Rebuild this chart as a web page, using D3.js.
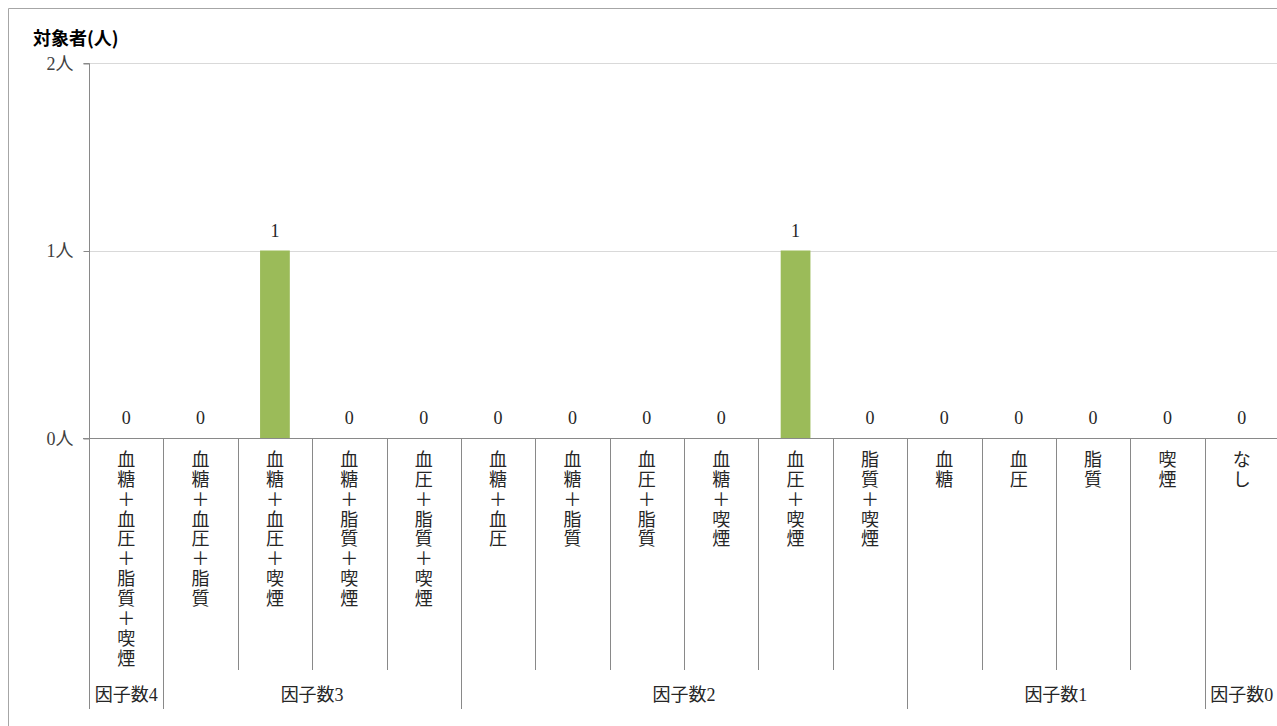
<!DOCTYPE html>
<html><head><meta charset="utf-8">
<script src="https://cdn.jsdelivr.net/npm/d3@7"></script>
<style>
html,body{margin:0;padding:0;background:#fff;}
svg{display:block;}
text{font-family:"Liberation Serif","Noto Sans CJK JP",serif;fill:#262626;}
</style></head><body>
<svg id="chart" width="1277" height="726"></svg>
<script>
const categories = ["血糖＋血圧＋脂質＋喫煙","血糖＋血圧＋脂質","血糖＋血圧＋喫煙","血糖＋脂質＋喫煙","血圧＋脂質＋喫煙","血糖＋血圧","血糖＋脂質","血圧＋脂質","血糖＋喫煙","血圧＋喫煙","脂質＋喫煙","血糖","血圧","脂質","喫煙","なし"];
const values = [0,0,1,0,0,0,0,0,0,1,0,0,0,0,0,0];
const groups = ["因子数4","因子数3","因子数2","因子数1","因子数0"];
const groupSizes = [1,4,6,4,1];
const yTicks = [0,1,2];
const yTitle = "対象者(人)";

(function(){
const svg = d3.select("#chart");
const pLeft = 89, pRight = 1279, pTop = 63, base = 438;
const x = d3.scaleBand().domain(categories).range([pLeft, pRight]).padding(0);
const y = d3.scaleLinear().domain([0, 2]).range([base, pTop]);

// outer frame
svg.append("path").attr("d", "M8.5,726V8.5H1277").attr("fill","none").attr("stroke","#a6a6a6").attr("stroke-width",1);

// title
svg.append("text").attr("x",33).attr("y",45).text(yTitle)
  .style("font-family","'Noto Sans CJK JP',sans-serif").style("font-weight","bold").style("font-size","18px").style("fill","#000");

// gridlines
svg.append("g").selectAll("line").data(yTicks.filter(d=>d>0)).join("line")
  .attr("x1",pLeft).attr("x2",1277).attr("y1",d=>Math.round(y(d))+0.5).attr("y2",d=>Math.round(y(d))+0.5)
  .attr("stroke","#d9d9d9");

// y axis
const yAxis = d3.axisLeft(y).tickValues(yTicks).tickSize(6).tickPadding(10).tickFormat(d=>d+"人");
const ya = svg.append("g").attr("transform",`translate(${pLeft+0.5},0.5)`).call(yAxis);
ya.attr("font-family",null).attr("font-size",null);
ya.select(".domain").attr("stroke","#898989").attr("d",`M-6,${pTop}H0V${base}`);
ya.selectAll(".tick line").attr("stroke","#898989");
ya.selectAll(".tick text").style("font-size","18px").style("fill","#404040");

// bars
svg.append("g").selectAll("rect").data(categories).join("rect")
  .attr("x",(d)=>x(d)+x.bandwidth()*0.3)
  .attr("width",x.bandwidth()*0.4)
  .attr("y",(d,i)=>y(values[i]))
  .attr("height",(d,i)=>base - y(values[i]))
  .attr("fill","#9bbb59");

// value labels
svg.append("g").selectAll("text").data(categories).join("text")
  .attr("x",d=>x(d)+x.bandwidth()/2)
  .attr("y",(d,i)=>y(values[i])-20)
  .attr("text-anchor","middle").attr("dominant-baseline","central")
  .style("font-size","18px").style("fill","#262626")
  .text((d,i)=>values[i]);

// x baseline
svg.append("line").attr("x1",pLeft-6).attr("x2",1277).attr("y1",base+0.5).attr("y2",base+0.5).attr("stroke","#898989");

// separators
const groupStarts = [];
let acc = 0;
groupSizes.forEach(s=>{groupStarts.push(acc); acc+=s;});
const boundaries = d3.range(categories.length+1);
svg.append("g").selectAll("line").data(boundaries).join("line")
  .attr("x1",i=>Math.round(i<categories.length?x(categories[i]):pRight)+0.5)
  .attr("x2",i=>Math.round(i<categories.length?x(categories[i]):pRight)+0.5)
  .attr("y1",base).attr("y2",i=>(groupStarts.includes(i)||i===categories.length)?709:670)
  .attr("stroke","#898989");

// category labels (vertical)
const cl = svg.append("g");
categories.forEach(c=>{
  Array.from(c).forEach((ch,k)=>{
    cl.append("text").attr("x",x(c)+x.bandwidth()/2).attr("y",460+k*19.85)
      .attr("text-anchor","middle").attr("dominant-baseline","central")
      .style("font-size","18px").style("fill","#262626").text(ch);
  });
});

// group labels
svg.append("g").selectAll("text").data(groups).join("text")
  .attr("x",(g,i)=>{const a=x(categories[groupStarts[i]]); const e=a+groupSizes[i]*x.bandwidth(); return (a+e)/2;})
  .attr("y",695).attr("text-anchor","middle").attr("dominant-baseline","central")
  .style("font-size","18px").style("fill","#262626").text(d=>d);
})();
</script></body></html>
